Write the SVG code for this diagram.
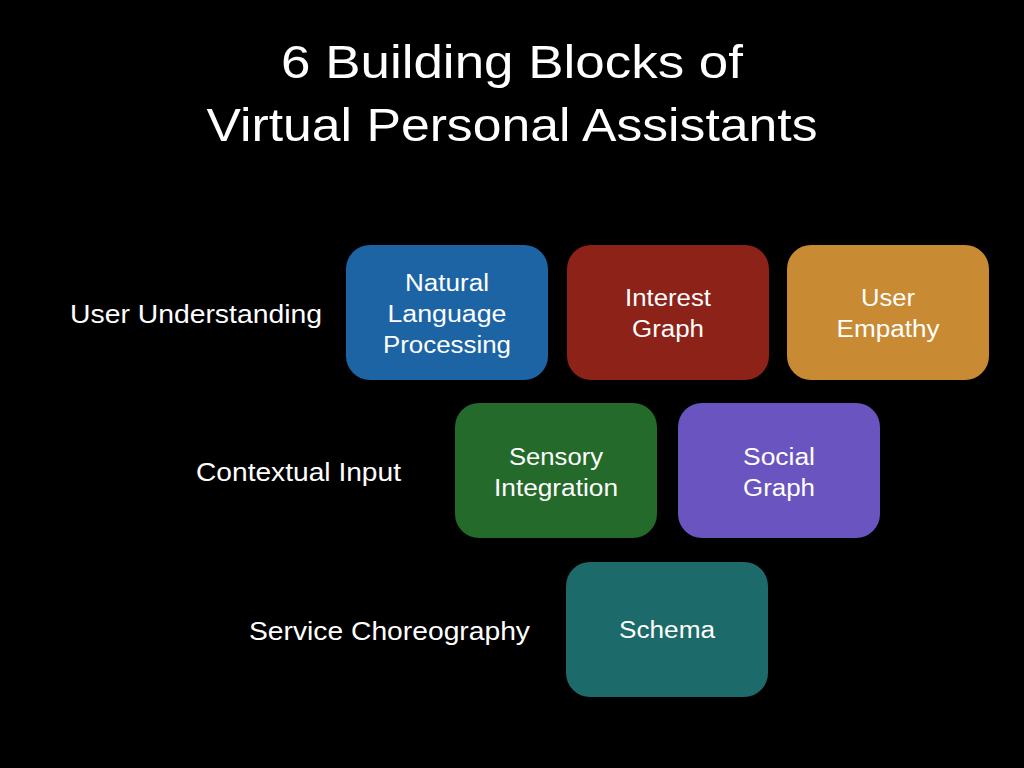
<svg xmlns="http://www.w3.org/2000/svg" width="1024" height="768" viewBox="0 0 1024 768">
<style>
text{font-family:"Liberation Sans",Arial,sans-serif;fill:#fff}
.t{font-size:47px}
.l{font-size:25px}
.b{font-size:23px}
</style>
<rect width="1024" height="768" fill="#000"/>
<text class="t" x="512" y="78" text-anchor="middle" textLength="462" lengthAdjust="spacingAndGlyphs">6 Building Blocks of</text>
<text class="t" x="512" y="141" text-anchor="middle" textLength="611" lengthAdjust="spacingAndGlyphs">Virtual Personal Assistants</text>
<text class="l" x="70" y="323" textLength="252" lengthAdjust="spacingAndGlyphs">User Understanding</text>
<text class="l" x="196" y="481" textLength="205" lengthAdjust="spacingAndGlyphs">Contextual Input</text>
<text class="l" x="249" y="640" textLength="281" lengthAdjust="spacingAndGlyphs">Service Choreography</text>
<g id="nlp"><rect x="346" y="245" width="202" height="135" rx="24" fill="#1c64a4"/>
<text class="b" text-anchor="middle" x="447" y="291" textLength="84" lengthAdjust="spacingAndGlyphs">Natural</text><text class="b" text-anchor="middle" x="447" y="322" textLength="119" lengthAdjust="spacingAndGlyphs">Language</text><text class="b" text-anchor="middle" x="447" y="353" textLength="128" lengthAdjust="spacingAndGlyphs">Processing</text></g>
<g id="interest"><rect x="567" y="245" width="202" height="135" rx="24" fill="#8c2218"/>
<text class="b" text-anchor="middle" x="668" y="306" textLength="86" lengthAdjust="spacingAndGlyphs">Interest</text><text class="b" text-anchor="middle" x="668" y="337" textLength="72" lengthAdjust="spacingAndGlyphs">Graph</text></g>
<g id="empathy"><rect x="787" y="245" width="202" height="135" rx="24" fill="#c88a32"/>
<text class="b" text-anchor="middle" x="888" y="306" textLength="54" lengthAdjust="spacingAndGlyphs">User</text><text class="b" text-anchor="middle" x="888" y="337" textLength="103" lengthAdjust="spacingAndGlyphs">Empathy</text></g>
<g id="sensory"><rect x="455" y="403" width="202" height="135" rx="24" fill="#246a2a"/>
<text class="b" text-anchor="middle" x="556" y="465" textLength="94" lengthAdjust="spacingAndGlyphs">Sensory</text><text class="b" text-anchor="middle" x="556" y="496" textLength="124" lengthAdjust="spacingAndGlyphs">Integration</text></g>
<g id="social"><rect x="678" y="403" width="202" height="135" rx="24" fill="#6a54c0"/>
<text class="b" text-anchor="middle" x="779" y="465" textLength="72" lengthAdjust="spacingAndGlyphs">Social</text><text class="b" text-anchor="middle" x="779" y="496" textLength="72" lengthAdjust="spacingAndGlyphs">Graph</text></g>
<g id="schema"><rect x="566" y="562" width="202" height="135" rx="24" fill="#1c6a6a"/>
<text class="b" text-anchor="middle" x="667" y="638" textLength="96" lengthAdjust="spacingAndGlyphs">Schema</text></g>
<g id="connectors"/>
</svg>
